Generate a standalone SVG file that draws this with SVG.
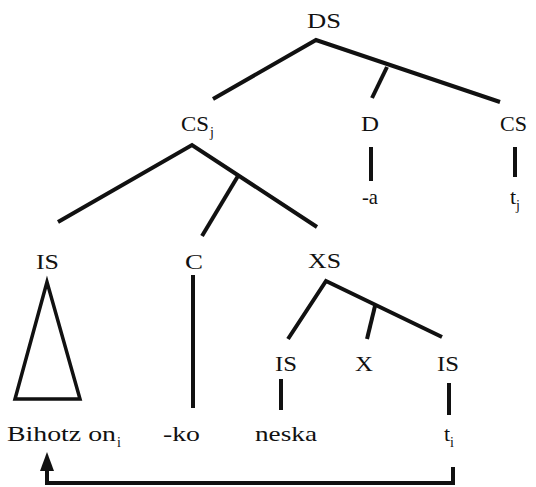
<svg xmlns="http://www.w3.org/2000/svg" width="536" height="487" viewBox="0 0 536 487">
<style>
text{font-family:"Liberation Serif","Times New Roman",serif;font-size:22px;fill:#111}
.sub{font-size:14px}
.e{stroke:#111;stroke-width:4;fill:none;stroke-linecap:butt}
</style>
<rect width="536" height="487" fill="#fff"/>
<g id="DS"><text x="307" y="28" textLength="34" lengthAdjust="spacingAndGlyphs">DS</text></g>
<g id="CSj"><text x="181" y="131" textLength="28" lengthAdjust="spacingAndGlyphs">CS</text><text class="sub" x="210" y="137">j</text></g>
<g id="D"><text x="361" y="131" textLength="18" lengthAdjust="spacingAndGlyphs">D</text></g>
<g id="CS"><text x="500" y="131" textLength="27" lengthAdjust="spacingAndGlyphs">CS</text></g>
<g id="a"><text x="362" y="204" textLength="16" lengthAdjust="spacingAndGlyphs">-a</text></g>
<g id="tj"><text x="510" y="204">t</text><text class="sub" x="516" y="210">j</text></g>
<g id="IS1"><text x="36" y="269" textLength="23" lengthAdjust="spacingAndGlyphs">IS</text></g>
<g id="C"><text x="185" y="269" textLength="18" lengthAdjust="spacingAndGlyphs">C</text></g>
<g id="XS"><text x="308" y="268" textLength="33" lengthAdjust="spacingAndGlyphs">XS</text></g>
<g id="IS2"><text x="275" y="371" textLength="22" lengthAdjust="spacingAndGlyphs">IS</text></g>
<g id="X"><text x="355" y="371" textLength="18" lengthAdjust="spacingAndGlyphs">X</text></g>
<g id="IS3"><text x="437" y="371" textLength="22" lengthAdjust="spacingAndGlyphs">IS</text></g>
<g id="Bihotz"><text x="7" y="441" textLength="109" lengthAdjust="spacingAndGlyphs">Bihotz on</text><text class="sub" x="117" y="447">i</text></g>
<g id="ko"><text x="163" y="441" textLength="37" lengthAdjust="spacingAndGlyphs">-ko</text></g>
<g id="neska"><text x="255" y="441" textLength="62" lengthAdjust="spacingAndGlyphs">neska</text></g>
<g id="ti"><text x="444" y="441">t</text><text class="sub" x="450" y="447">i</text></g>
<g id="triangle"><polygon points="47,282 15,399 80,399" fill="none" stroke="#111" stroke-width="3.5" stroke-linejoin="miter"/></g>
<g id="connectors" class="e">
<polyline points="213,99 316,40 500,102"/>
<line x1="387" y1="67" x2="372" y2="98"/>
<line x1="371" y1="147" x2="371" y2="181"/>
<line x1="515" y1="147" x2="515" y2="177"/>
<polyline points="58,222 192,145 317,227"/>
<line x1="238" y1="176" x2="202" y2="236"/>
<line x1="193" y1="275" x2="193" y2="408"/>
<polyline points="288,339 326,281 442,337"/>
<line x1="375" y1="306" x2="367" y2="339"/>
<line x1="281" y1="379" x2="281" y2="410"/>
<line x1="449" y1="383" x2="449" y2="415"/>
<polyline points="453,467 453,483 47,483 47,468"/>
</g>
<polygon points="47,452 40,471 54,471" fill="#111"/>
</svg>
